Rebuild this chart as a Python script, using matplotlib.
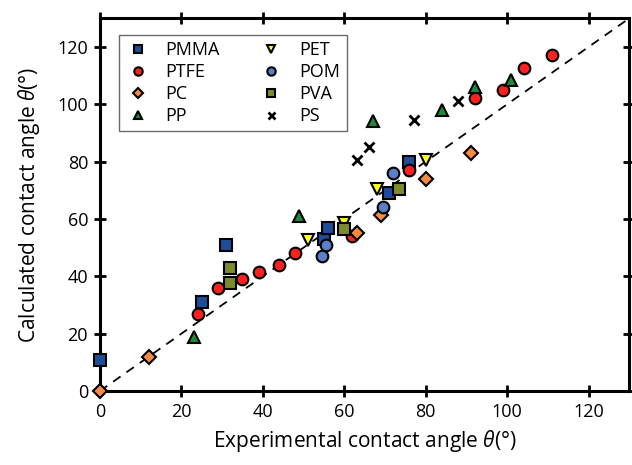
import matplotlib
matplotlib.use("Agg")
import matplotlib.pyplot as plt
import numpy as np

plt.rcParams['font.family'] = ['Open Sans', 'DejaVu Sans']
plt.rcParams['mathtext.fontset'] = 'custom'
plt.rcParams['mathtext.it'] = 'Open Sans:italic'
plt.rcParams['mathtext.rm'] = 'Open Sans'

pmma_x = [0, 25, 31, 55, 56, 71, 76]
pmma_y = [11, 31, 51, 53, 57, 69, 80]
ptfe_x = [24, 29, 35, 39, 44, 48, 62, 76, 92, 99, 104, 111]
ptfe_y = [27, 36, 39, 41.5, 44, 48, 54, 77, 102, 105, 112.5, 117]
pc_x = [0, 12, 63, 69, 80, 91]
pc_y = [0, 12, 55, 61.5, 74, 83]
pp_x = [23, 49, 67, 84, 92, 101]
pp_y = [19, 61, 94, 98, 106, 108.5]
pet_x = [51, 60, 68, 80]
pet_y = [52.5, 58.5, 70.5, 80.5]
pom_x = [54.5, 55.5, 69.5, 72]
pom_y = [47, 51, 64, 76]
pva_x = [32, 32, 60, 73.5]
pva_y = [43, 37.5, 56.5, 70.5]
ps_x = [63, 66, 77, 88]
ps_y = [80.5, 85, 94.5, 101]

ticks = [0, 20, 40, 60, 80, 100, 120]

fig = plt.figure(figsize=(6.32, 4.65), dpi=100)
ax = fig.add_axes([0.158, 0.159, 0.838, 0.802])

ax.plot([0, 130], [0, 130], ls=(0, (5, 4)), color='black', lw=1.3, zorder=1)

ms = 8.4
kw = dict(ls='none', markersize=ms, markeredgecolor='black', markeredgewidth=1.5, zorder=3, clip_on=False)
h1, = ax.plot(pmma_x, pmma_y, marker='s', markerfacecolor='#1F4E99', label='PMMA', **kw)
h2, = ax.plot(ptfe_x, ptfe_y, marker='o', markerfacecolor='#FF2020', label='PTFE', **kw)
h3, = ax.plot(pc_x, pc_y, marker='D', markerfacecolor='#F58A42', label='PC', **dict(kw, markersize=7.2))
h4, = ax.plot(pp_x, pp_y, marker='^', markerfacecolor='#1E8A3A', label='PP', **kw)
h5, = ax.plot(pet_x, pet_y, marker='v', markerfacecolor='#FFFF1A', label='PET', **kw)
h6, = ax.plot(pom_x, pom_y, marker='o', markerfacecolor='#5B7FC8', label='POM', **kw)
h7, = ax.plot(pva_x, pva_y, marker='s', markerfacecolor='#7F8A2E', label='PVA', **kw)
h8, = ax.plot(ps_x, ps_y, marker='x', color='black', ls='none', markersize=7, markeredgewidth=2, label='PS', zorder=3)

ax.set_xlim(0, 130)
ax.set_ylim(0, 130)
ax.set_xticks(ticks)
ax.set_yticks(ticks)
ax.tick_params(direction='inout', length=9, width=2, labelsize=13,
               top=True, right=True, pad=4)
for s in ax.spines.values():
    s.set_linewidth(2.2)

ax.set_xlabel(r'Experimental contact angle $\theta$(°)', fontsize=15, labelpad=5)
ax.set_ylabel(r'Calculated contact angle $\theta$(°)', fontsize=15, labelpad=11)

leg = ax.legend(handles=[h1, h2, h3, h4, h5, h6, h7, h8], ncol=2, loc='upper left',
                bbox_to_anchor=(0.037, 0.955), fontsize=13, frameon=True, fancybox=False,
                edgecolor='#444444', handletextpad=0.9, columnspacing=2.2,
                handlelength=1.3, labelspacing=0.22, borderpad=0.35, borderaxespad=0,
                markerscale=0.72)
leg.get_frame().set_linewidth(1.0)
leg.set_zorder(10)

fig.savefig('out.png', dpi=100)
